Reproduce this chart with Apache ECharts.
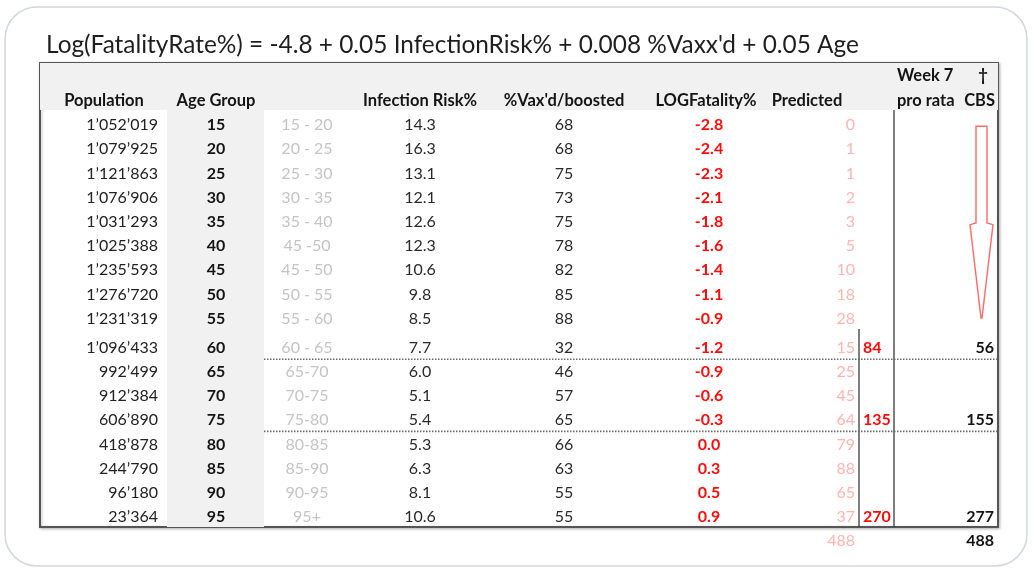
<!DOCTYPE html>
<html lang="en">
<head>
<meta charset="UTF-8">
<title>Fatality table</title>
<script src="https://cdn.jsdelivr.net/npm/echarts@6/dist/echarts.min.js"></script>
<style>
  html, body { margin: 0; padding: 0; background: #fff; }
  #chart { width: 1034px; height: 570px; }
</style>
</head>
<body>
<div id="chart"></div>
<script>
// ---- data ----
var population = [1052019, 1079925, 1121863, 1076906, 1031293, 1025388, 1235593, 1276720, 1231319,
  1096433, 992499, 912384, 606890, 418878, 244790, 96180, 23364];
var ageGroup = [15, 20, 25, 30, 35, 40, 45, 50, 55, 60, 65, 70, 75, 80, 85, 90, 95];
var ageRange = ['15 - 20', '20 - 25', '25 - 30', '30 - 35', '35 - 40', '45 -50', '45 - 50', '50 - 55', '55 - 60',
  '60 - 65', '65-70', '70-75', '75-80', '80-85', '85-90', '90-95', '95+'];
var infectionRisk = [14.3, 16.3, 13.1, 12.1, 12.6, 12.3, 10.6, 9.8, 8.5, 7.7, 6.0, 5.1, 5.4, 5.3, 6.3, 8.1, 10.6];
var vaxxed = [68, 68, 75, 73, 75, 78, 82, 85, 88, 32, 46, 57, 65, 66, 63, 55, 55];
var logFatality = [-2.8, -2.4, -2.3, -2.1, -1.8, -1.6, -1.4, -1.1, -0.9, -1.2, -0.9, -0.6, -0.3, 0.0, 0.3, 0.5, 0.9];
var predicted = [0, 1, 1, 2, 3, 5, 10, 18, 28, 15, 25, 45, 64, 79, 88, 65, 37];
var groupRows = [9, 12, 16];
var proRata = [84, 135, 270];
var cbsDeaths = [56, 155, 277];
var predictedTotal = 488;
var cbsTotal = 488;

var title = "Log(FatalityRate%) = -4.8 + 0.05 InfectionRisk% + 0.008 %Vaxx'd + 0.05 Age";
var headers = ['Population', 'Age Group', 'Infection Risk%', "%Vax'd/boosted", 'LOGFatality%', 'Predicted', 'pro rata', 'CBS'];
var headersTop = ['Week 7', '\u2020'];

// ---- layout (x in pixels, y in row units) ----
var FONT = 'Lato';
var Y_MIN = -2.562, Y_MAX = 16.613;
var HEAD1 = -2.03, HEAD2 = -0.99, HEAD_END = -0.62, TOTAL_ROW = 17.19;
function rowPos(i) { return i + (i >= 9 ? 0.2 : 0); }

var cols = {
  population: { x: 158, align: 'right' },
  age: { x: 216, align: 'center' },
  range: { x: 307, align: 'center' },
  infection: { x: 420, align: 'center' },
  vax: { x: 564, align: 'center' },
  log: { x: 709, align: 'center' },
  predicted: { x: 855, align: 'right' },
  proRata: { x: 863, align: 'left' },
  cbs: { x: 994, align: 'right' }
};

function fmtPop(v) {
  return String(v).replace(/\B(?=(\d{3})+(?!\d))/g, '\u2019');
}

// one custom series of text cells
function textSeries(texts, xs, ys, aligns, font, color) {
  return {
    type: 'custom',
    z: 5,
    silent: true,
    clip: false,
    data: texts.map(function (t, i) { return [xs[i], ys[i]]; }),
    renderItem: function (params, api) {
      var p = api.coord([api.value(0), api.value(1)]);
      return {
        type: 'text',
        x: p[0],
        y: p[1],
        style: {
          text: texts[params.dataIndex],
          fill: color,
          font: font,
          align: aligns[params.dataIndex],
          verticalAlign: 'middle'
        }
      };
    }
  };
}

function column(values, col, font, color, fmt, rows) {
  var texts = values.map(function (v) { return fmt ? fmt(v) : String(v); });
  var xs = values.map(function () { return col.x; });
  var ys = values.map(function (v, i) { return rowPos(rows ? rows[i] : i); });
  var al = values.map(function () { return col.align; });
  return textSeries(texts, xs, ys, al, font, color);
}

var reg = '16px ' + FONT;
var bold = 'bold 16px ' + FONT;
var headFont = 'bold 16.5px ' + FONT;

var series = [];

// background bands
var bands = [
  [40, Y_MIN, 998, HEAD_END],
  [167, HEAD_END, 264, Y_MAX]
];
series.push({
  type: 'custom', z: 1, silent: true,
  data: bands,
  renderItem: function (params, api) {
    var a = api.coord([api.value(0), api.value(1)]);
    var b = api.coord([api.value(2), api.value(3)]);
    return { type: 'rect', shape: { x: a[0], y: a[1], width: b[0] - a[0], height: b[1] - a[1] }, style: { fill: '#f1f1f1' } };
  }
});

// rules: x0, y0, x1, y1, dotted
var rules = [
  [859, 8.43, 859, Y_MAX, 0],
  [894, HEAD_END, 894, Y_MAX, 0],
  [264, 9.68, 998, 9.68, 1],
  [264, 12.66, 998, 12.66, 1]
];
series.push({
  type: 'custom', z: 2, silent: true,
  data: rules,
  renderItem: function (params, api) {
    var a = api.coord([api.value(0), api.value(1)]);
    var b = api.coord([api.value(2), api.value(3)]);
    var dotted = api.value(4) === 1;
    return {
      type: 'line',
      shape: { x1: a[0], y1: a[1], x2: b[0], y2: b[1] },
      style: { stroke: dotted ? '#6a6a6a' : '#3a3a3a', lineWidth: dotted ? 1.6 : 1.3, lineDash: dotted ? [1.5, 1.5] : null }
    };
  }
});

// hollow arrow in CBS column
var arrowPts = [[976, 0.05], [987, 0.05], [987, 4.05], [993, 4.12], [982, 7.98], [981, 7.98], [970, 4.12], [976, 4.05]];
series.push({
  type: 'custom', z: 3, silent: true,
  data: [[0, 0]],
  renderItem: function (params, api) {
    return {
      type: 'polygon',
      shape: { points: arrowPts.map(function (p) { return api.coord(p); }) },
      style: { fill: '#fff', stroke: '#ff6a6a', lineWidth: 1.4 }
    };
  }
});

// header texts
series.push(textSeries(
  headers.concat(headersTop),
  [104, 216, 420, 564, 706, 807, 897, 995, 897, 983],
  [HEAD2, HEAD2, HEAD2, HEAD2, HEAD2, HEAD2, HEAD2, HEAD2, HEAD1, HEAD1],
  ['center', 'center', 'center', 'center', 'center', 'center', 'left', 'right', 'left', 'center'],
  headFont, '#141414'
));

// body columns
series.push(column(population, cols.population, reg, '#222', fmtPop));
series.push(column(ageGroup, cols.age, bold, '#141414'));
series.push(column(ageRange, cols.range, reg, '#c4c4c4'));
series.push(column(infectionRisk, cols.infection, reg, '#2a2a2a', function (v) { return v.toFixed(1); }));
series.push(column(vaxxed, cols.vax, reg, '#2a2a2a'));
series.push(column(logFatality, cols.log, bold, '#ff0a0a', function (v) { return v.toFixed(1); }));
series.push(column(predicted, cols.predicted, reg, '#ffb4b4'));
series.push(column(proRata, cols.proRata, bold, '#ff0a0a', null, groupRows));
series.push(column(cbsDeaths, cols.cbs, bold, '#141414', null, groupRows));

// totals
series.push(textSeries([String(predictedTotal)], [cols.predicted.x], [TOTAL_ROW], ['right'], reg, '#ffb4b4'));
series.push(textSeries([String(cbsTotal)], [cols.cbs.x], [TOTAL_ROW], ['right'], bold, '#141414'));

var chart = echarts.init(document.getElementById('chart'), null, { renderer: 'canvas' });
chart.setOption({
  animation: false,
  backgroundColor: '#fff',
  title: {
    text: title,
    left: 46,
    top: 33,
    padding: 0,
    textStyle: { fontFamily: FONT, fontSize: 24.4, fontWeight: 'normal', color: '#1e1e1e' }
  },
  graphic: [{
    type: 'rect', z: -10, silent: true,
    shape: { x: 5, y: 7, width: 1022, height: 559, r: 32 },
    style: { fill: '#fff', stroke: '#cfd9df', lineWidth: 1.5 }
  }],
  grid: {
    left: 40, top: 63, width: 958, height: 464,
    show: true, backgroundColor: '#fff',
    borderColor: '#555', borderWidth: 2,
    shadowColor: 'rgba(0,0,0,0.25)', shadowBlur: 3, shadowOffsetX: 1, shadowOffsetY: 1
  },
  xAxis: { type: 'value', min: 40, max: 998, show: false },
  yAxis: { type: 'value', min: Y_MIN, max: Y_MAX, inverse: true, show: false },
  series: series
});
</script>
</body>
</html>
